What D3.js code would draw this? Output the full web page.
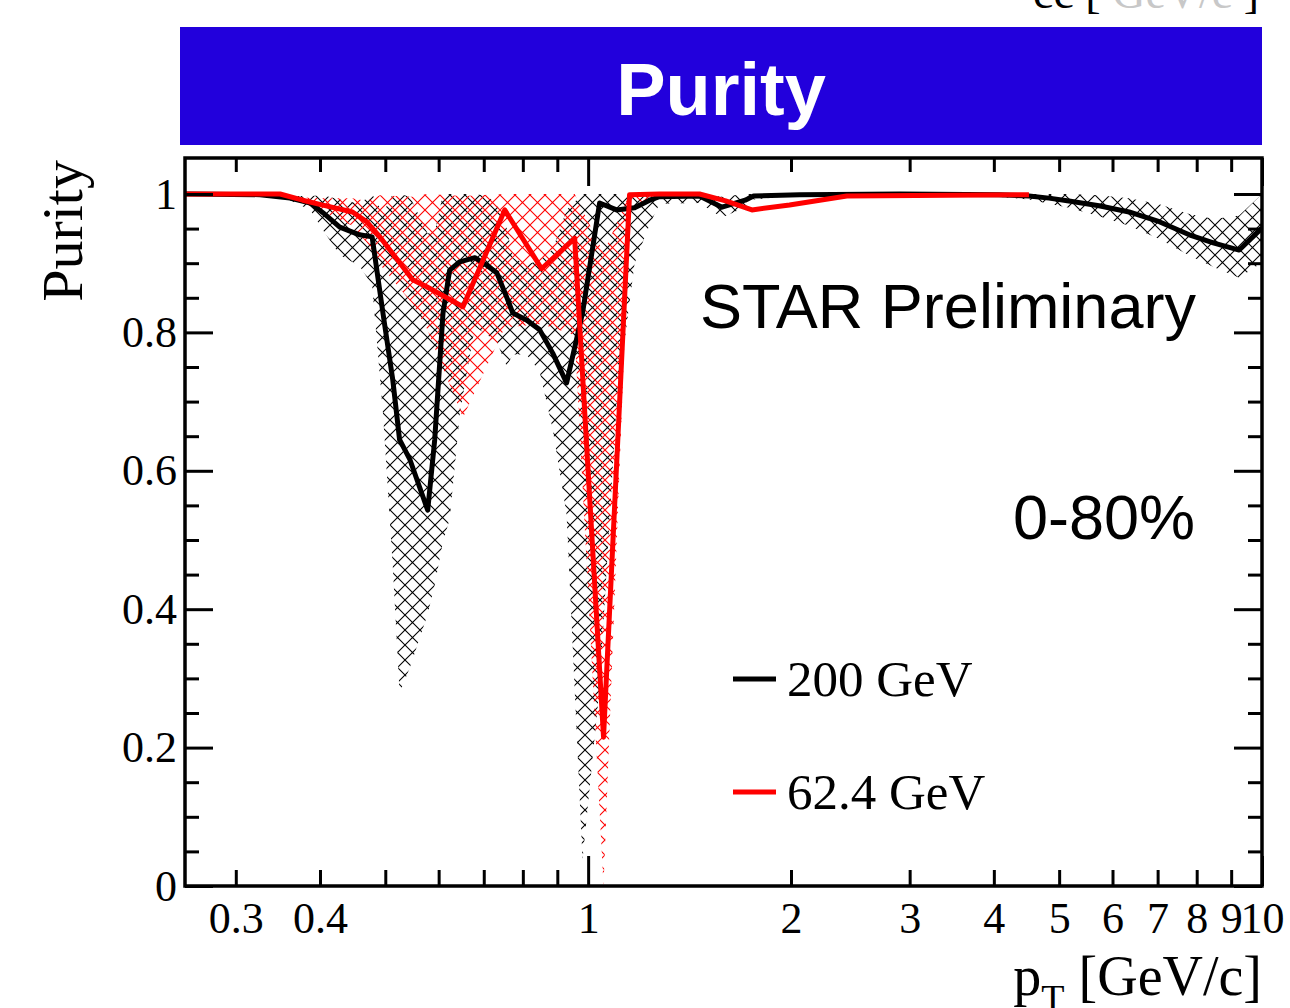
<!DOCTYPE html>
<html><head><meta charset="utf-8">
<script src="https://cdn.jsdelivr.net/npm/d3@7"></script>
<style>html,body{margin:0;padding:0;background:#fff;} svg{display:block}</style>
</head><body>
<svg id="chart" width="1290" height="1008"></svg>
<script>
// ---------------- data ----------------
const seriesNames = ["200 GeV", "62.4 GeV"];
const seriesColors = ["#000000", "#ff0000"];

const pt200 = [0.2522, 0.326, 0.361, 0.387, 0.404, 0.428, 0.458, 0.478, 0.496, 0.513, 0.525, 0.544, 0.578, 0.592, 0.609, 0.623, 0.645, 0.679, 0.707, 0.732, 0.757, 0.773, 0.810, 0.847, 0.886, 0.929, 0.981, 1.040, 1.102, 1.172, 1.234, 1.276, 1.463, 1.58, 1.71, 1.76, 2.06, 2.90, 4.07, 4.51, 4.83, 5.17, 5.73, 6.35, 7.04, 7.80, 8.49, 9.25, 10.0];
const purity200 = [1.0, 0.999, 0.994, 0.987, 0.973, 0.952, 0.941, 0.938, 0.828, 0.731, 0.645, 0.616, 0.543, 0.645, 0.828, 0.890, 0.902, 0.908, 0.897, 0.886, 0.851, 0.828, 0.818, 0.804, 0.770, 0.727, 0.828, 0.987, 0.977, 0.980, 0.991, 0.996, 0.997, 0.981, 0.991, 0.997, 0.999, 1.0, 0.999, 0.997, 0.994, 0.990, 0.983, 0.974, 0.960, 0.941, 0.929, 0.919, 0.951];
const errDown200 = [0, 0, 0.003, 0.01, 0.025, 0.04, 0.045, 0.07, 0.144, 0.27, 0.366, 0.30, 0.15, 0.21, 0.33, 0.36, 0.22, 0.10, 0.10, 0.10, 0.10, 0.06, 0.05, 0.06, 0.11, 0.19, 0.79, 0.70, 0.28, 0.08, 0.035, 0.01, 0.01, 0.015, 0.01, 0.005, 0, 0, 0.003, 0.005, 0.008, 0.01, 0.015, 0.02, 0.025, 0.03, 0.035, 0.04, 0.05];
const errUp200 = [0, 0, 0.003, 0.01, 0.025, 0.04, 0.045, 0.07, 0.144, 0.27, 0.366, 0.38, 0.40, 0.30, 0.33, 0.36, 0.22, 0.10, 0.10, 0.10, 0.10, 0.08, 0.08, 0.10, 0.15, 0.25, 0.79, 0.70, 0.28, 0.08, 0.035, 0.01, 0.01, 0.015, 0.01, 0.005, 0, 0, 0.003, 0.005, 0.008, 0.01, 0.015, 0.02, 0.025, 0.03, 0.035, 0.05, 0.05];

const pt62 = [0.2522, 0.349, 0.377, 0.404, 0.447, 0.469, 0.491, 0.549, 0.576, 0.652, 0.752, 0.853, 0.955, 1.054, 1.152, 1.276, 1.463, 1.60, 1.75, 1.99, 2.42, 4.51];
const purity62 = [1.0, 1.0, 0.991, 0.984, 0.974, 0.960, 0.938, 0.876, 0.866, 0.837, 0.977, 0.892, 0.936, 0.215, 0.999, 1.0, 1.0, 0.990, 0.977, 0.984, 0.997, 0.999];
const errDown62 = [0, 0, 0.004, 0.01, 0.02, 0.03, 0.04, 0.035, 0.06, 0.16, 0.17, 0.08, 0.14, 0.70, 0.02, 0, 0, 0, 0, 0, 0, 0];
const errUp62 = [0, 0, 0.004, 0.01, 0.02, 0.03, 0.06, 0.12, 0.14, 0.16, 0.17, 0.11, 0.14, 0.70, 0.02, 0, 0, 0, 0, 0, 0, 0];

const xMinorTicks = [0.3, 0.4, 0.5, 0.6, 0.7, 0.8, 0.9, 2, 3, 4, 5, 6, 7, 8, 9];
const xMajorTicks = [1, 10];
const xTickLabels = {0.3: "0.3", 0.4: "0.4", 1: "1", 2: "2", 3: "3", 4: "4", 5: "5", 6: "6", 7: "7", 8: "8", 9: "9", 10: "10"};
const yMajorTicks = [0, 0.2, 0.4, 0.6, 0.8, 1.0];
const yTickLabels = ["0", "0.2", "0.4", "0.6", "0.8", "1"];
const yMinorTicks = [0.05, 0.1, 0.15, 0.25, 0.3, 0.35, 0.45, 0.5, 0.55, 0.65, 0.7, 0.75, 0.85, 0.9, 0.95];

const titleText = "Purity";
const yTitle = "Purity";
const annotation1 = "STAR Preliminary";
const annotation2 = "0-80%";

// ---------------- layout ----------------
const svg = d3.select("#chart");
const L = 185, R = 1262, T = 158, B = 886;
const x = d3.scaleLog().domain([0.2522, 10]).range([L, R]);
const y = d3.scaleLinear().domain([0, 1.052]).range([B, T]);
const serif = "'Liberation Serif','Times New Roman',serif";
const sans = "'Liberation Sans',Arial,sans-serif";

const defs = svg.append("defs");
defs.append("clipPath").attr("id", "plotclip").append("rect")
  .attr("x", L).attr("y", T).attr("width", R - L).attr("height", B - T);
function hatch(id, color, shift) {
  const s = 15;
  const p = defs.append("pattern").attr("id", id)
    .attr("patternUnits", "userSpaceOnUse").attr("width", s).attr("height", s)
    .attr("patternTransform", `translate(${shift},0)`);
  p.append("path").attr("d", `M0,0L${s},${s}M${s},0L0,${s}`)
    .attr("stroke", color).attr("stroke-width", 1.1).attr("fill", "none");
}
hatch("hatch0", "#000", 0);
hatch("hatch1", "#ff0000", 5);

// cut-off text at the very top (from a panel above)
const topTxt = svg.append("text").attr("x", 1033).attr("y", 8)
  .attr("font-family", serif).attr("font-size", 46).attr("fill", "#000");
topTxt.append("tspan").text("cc ");
topTxt.append("tspan").text("[");
topTxt.append("tspan").attr("fill", "#c8c8c8").text(" GeV/c ");
topTxt.append("tspan").text("]");

// title banner
svg.append("rect").attr("x", 180).attr("y", 27).attr("width", 1082).attr("height", 118).attr("fill", "#2200dc");
svg.append("text").attr("x", 721).attr("y", 115).attr("text-anchor", "middle")
  .attr("font-family", sans).attr("font-weight", "bold").attr("font-size", 74)
  .attr("fill", "#fff").text(titleText);

// ---------------- series ----------------
const series = [
  {pt: pt200, v: purity200, lo: errDown200, hi: errUp200},
  {pt: pt62, v: purity62, lo: errDown62, hi: errUp62}
].map((s, i) => ({
  name: seriesNames[i], color: seriesColors[i],
  pts: s.pt.map((p, j) => ({pt: p, v: s.v[j], lo: s.lo[j], hi: s.hi[j]}))
}));

const plot = svg.append("g").attr("clip-path", "url(#plotclip)");
const area = d3.area()
  .x(d => x(d.pt))
  .y0(d => y(Math.max(0, d.v - d.lo)))
  .y1(d => y(Math.min(1, d.v + d.hi)));
const line = d3.line().x(d => x(d.pt)).y(d => y(d.v));

series.forEach((s, i) => {
  plot.append("path").datum(s.pts).attr("d", area)
    .attr("fill", `url(#hatch${i})`).attr("stroke", "none");
});
series.forEach(s => {
  plot.append("path").datum(s.pts).attr("d", line)
    .attr("fill", "none").attr("stroke", s.color).attr("stroke-width", 5)
    .attr("stroke-linejoin", "round");
});

// ---------------- axes ----------------
function styleAxis(g) {
  g.select(".domain").remove();
  g.selectAll(".tick line").attr("stroke", "#000").attr("stroke-width", 3);
  g.selectAll("text").attr("font-family", serif).attr("font-size", 44).attr("fill", "#000");
}
// bottom
svg.append("g").attr("transform", `translate(0,${B})`)
  .call(d3.axisBottom(x).tickValues(xMinorTicks).tickSize(-16).tickPadding(16)
    .tickFormat(d => xTickLabels[d] || ""))
  .call(styleAxis);
svg.append("g").attr("transform", `translate(0,${B})`)
  .call(d3.axisBottom(x).tickValues(xMajorTicks).tickSize(-30).tickPadding(16)
    .tickFormat(d => xTickLabels[d] || ""))
  .call(styleAxis);
// top
svg.append("g").attr("transform", `translate(0,${T})`)
  .call(d3.axisTop(x).tickValues(xMinorTicks).tickSize(-14).tickFormat(""))
  .call(styleAxis);
svg.append("g").attr("transform", `translate(0,${T})`)
  .call(d3.axisTop(x).tickValues(xMajorTicks).tickSize(-28).tickFormat(""))
  .call(styleAxis);
// left
svg.append("g").attr("transform", `translate(${L},0)`)
  .call(d3.axisLeft(y).tickValues(yMajorTicks).tickSize(-28).tickPadding(8)
    .tickFormat((d, i) => yTickLabels[i]))
  .call(styleAxis);
svg.append("g").attr("transform", `translate(${L},0)`)
  .call(d3.axisLeft(y).tickValues(yMinorTicks).tickSize(-14).tickFormat(""))
  .call(styleAxis);
// right
svg.append("g").attr("transform", `translate(${R},0)`)
  .call(d3.axisRight(y).tickValues(yMajorTicks).tickSize(-28).tickFormat(""))
  .call(styleAxis);
svg.append("g").attr("transform", `translate(${R},0)`)
  .call(d3.axisRight(y).tickValues(yMinorTicks).tickSize(-14).tickFormat(""))
  .call(styleAxis);

// frame
svg.append("rect").attr("x", L).attr("y", T).attr("width", R - L).attr("height", B - T)
  .attr("fill", "none").attr("stroke", "#000").attr("stroke-width", 3.5);

// axis titles
const xt = svg.append("text").attr("x", R).attr("y", 995).attr("text-anchor", "end")
  .attr("font-family", serif).attr("font-size", 56).attr("fill", "#000");
xt.append("tspan").text("p");
xt.append("tspan").attr("font-size", 38).attr("dy", 16).text("T");
xt.append("tspan").attr("dy", -16).text(" [GeV/c]");

svg.append("text").attr("transform", "translate(82,160) rotate(-90)")
  .attr("text-anchor", "end").attr("font-family", serif).attr("font-size", 58)
  .attr("fill", "#000").text(yTitle);

// annotations
svg.append("text").attr("x", 700).attr("y", 328).attr("font-family", sans)
  .attr("font-size", 63).attr("fill", "#000").text(annotation1);
svg.append("text").attr("x", 1195).attr("y", 539).attr("text-anchor", "end").attr("font-family", sans)
  .attr("font-size", 63).attr("fill", "#000").text(annotation2);

// legend
const legY = [679, 792];
series.forEach((s, i) => {
  svg.append("line").attr("x1", 733).attr("x2", 776).attr("y1", legY[i]).attr("y2", legY[i])
    .attr("stroke", s.color).attr("stroke-width", 5);
  svg.append("text").attr("x", 787).attr("y", legY[i] + 17).attr("font-family", serif)
    .attr("font-size", 51).attr("fill", "#000").text(s.name);
});
</script>
</body></html>
